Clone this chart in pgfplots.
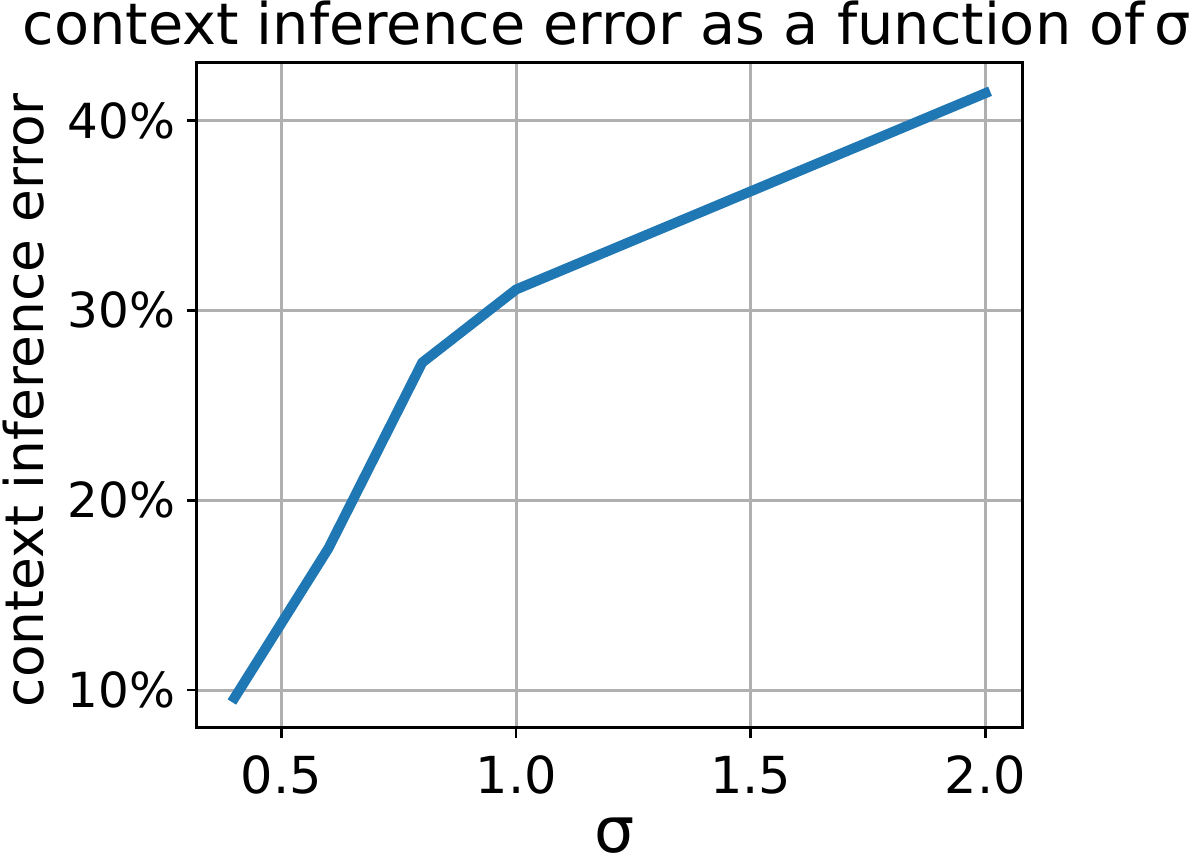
\documentclass[border=0pt]{standalone}
\usepackage{fontspec}
\setmainfont{DejaVu Sans}
\usepackage{pgfplots}
\pgfplotsset{compat=1.18}
\definecolor{mplblue}{HTML}{1F77B4}
\definecolor{mplgrid}{HTML}{B0B0B0}
\begin{document}
\begin{tikzpicture}
\useasboundingbox (-59.1pt,-40.5pt) rectangle (300.9pt,218.4pt);
\begin{axis}[
    at={(0,0)}, anchor=south west,
    scale only axis,
    width=247.8pt, height=199.5pt,
    xmin=0.32, xmax=2.08,
    ymin=8.0, ymax=43.03,
    xtick={0.5,1.0,1.5,2.0},
    xticklabels={0.5,1.0,1.5,2.0},
    ytick={10,20,30,40},
    yticklabels={10\%,20\%,30\%,40\%},
    grid=major,
    major grid style={mplgrid, line width=0.9pt},
    axis line style={line width=0.9pt},
    tick align=outside,
    xtick pos=bottom, ytick pos=left,
    major tick length=3pt,
    every tick/.style={black, line width=0.8pt},
    x tick label style={font=\fontsize{15.3}{17}\selectfont, anchor=base, inner sep=0pt, yshift=-16.8pt},
    y tick label style={font=\fontsize{14.5}{16}\selectfont, anchor=east, inner sep=0pt, xshift=-3.3pt},
    title={context inference error as a function of\,σ},
    every axis title/.style={at={(axis description cs:0.5,1)}, anchor=base, yshift=5.4pt, xshift=-1pt, font=\fontsize{17.2}{20}\selectfont},
    xlabel={σ},
    ylabel={context inference error},
    every axis x label/.style={at={(axis description cs:0.505,-0.1865)}, anchor=base, font=\fontsize{19}{22}\selectfont},
    every axis y label/.style={at={(axis description cs:-0.1858,0.493)}, anchor=base, rotate=90, font=\fontsize{16}{19}\selectfont},
]
% error in percent for each sigma
\addplot[mplblue, line width=3pt, line join=round, line cap=rect] coordinates {
    (0.4,9.59)
    (0.6,17.46)
    (0.8,27.25)
    (1.0,31.1)
    (2.0,41.44)
};
\end{axis}
\end{tikzpicture}
\end{document}
